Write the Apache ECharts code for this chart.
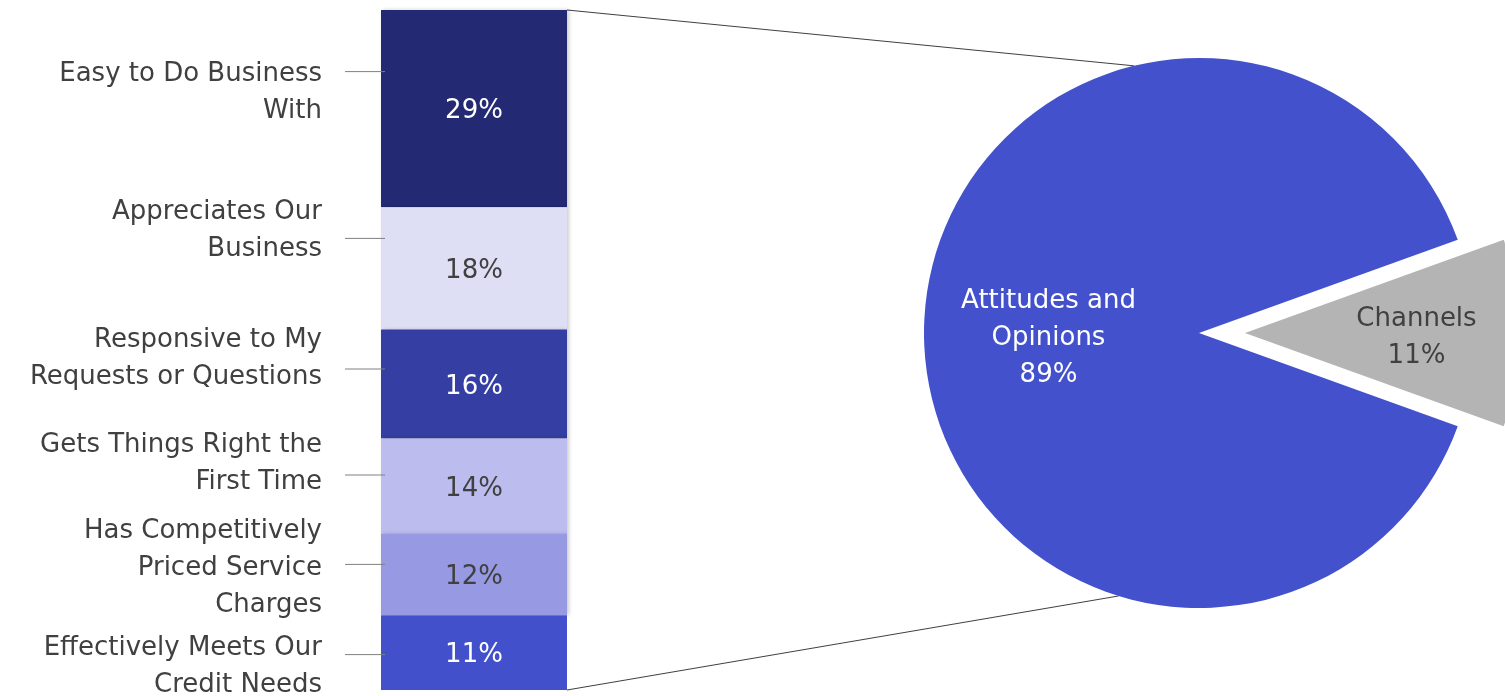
<!DOCTYPE html>
<html>
<head>
<meta charset="utf-8">
<script src="https://cdn.jsdelivr.net/npm/echarts@6/dist/echarts.min.js"></script>
<style>
  html, body { margin: 0; padding: 0; background: #ffffff; }
  #chart { width: 1505px; height: 696px; }
</style>
</head>
<body>
<div id="chart"></div>
<script>
// Breakdown of "Attitudes and Opinions" (stacked column, top to bottom)
const driverLabels = [
  'Easy to Do Business\nWith',
  'Appreciates Our\nBusiness',
  'Responsive to My\nRequests or Questions',
  'Gets Things Right the\nFirst Time',
  'Has Competitively\nPriced Service\nCharges',
  'Effectively Meets Our\nCredit Needs'
];
const driverValues = [29, 18, 16, 14, 12, 11];

// Overall split (pie)
const pieNames = ['Channels', 'Attitudes and\nOpinions'];
const pieValues = [11, 89];

// Styling
const driverColors = ['#232A73', '#DEDEF5', '#353FA3', '#BCBDEE', '#9799E2', '#4250CC'];
const driverTextColors = ['#ffffff', '#404040', '#ffffff', '#404040', '#404040', '#ffffff'];
const pieColors = ['#B4B4B4', '#4352CC'];
const pieTextColors = ['#404040', '#ffffff'];
const pieLabelOffsets = [[31, 5], [-10, 5]];
// leader line shift from the segment centre, and text shift from the leader line (px)
const leaderShift = [-37, -30, -15, -11, -10, 2];
const labelShift = [19, -10, -12, -13, 2, 10];
// angles (deg) where the connector lines meet the pie rim
const connectorAngles = [103.7, -107];

const FONT = '"DejaVu Sans", "Liberation Sans", sans-serif';
const FS = 26;
const PIE_CENTER = [1199, 333];
const PIE_RADIUS = 275;

const chart = echarts.init(document.getElementById('chart'), null, { renderer: 'canvas' });

const cumStart = [];
driverValues.reduce((acc, v, i) => { cumStart[i] = acc; return acc + v; }, 0);

const lastIdx = driverValues.length - 1;
const barSeries = driverValues.map((v, i) => ({
  type: 'bar',
  name: driverLabels[i],
  stack: 'drivers',
  barWidth: '100%',
  data: [v],
  itemStyle: i === lastIdx
    ? { color: driverColors[i] }
    : { color: driverColors[i], shadowBlur: 4, shadowColor: 'rgba(0,0,0,0.2)', shadowOffsetX: 2 },
  label: {
    show: true,
    position: 'inside',
    formatter: '{c}%',
    color: driverTextColors[i],
    fontFamily: FONT,
    fontSize: FS,
    offset: [0, 3]
  },
  emphasis: { disabled: true }
}));

const sideLabels = {
  type: 'custom',
  clip: false,
  silent: true,
  z: 3,
  data: driverValues.map((v, i) => [0, cumStart[i] + v / 2]),
  renderItem(params, api) {
    const i = params.dataIndex;
    const top = api.coord([0, cumStart[i]]);
    const bottom = api.coord([0, cumStart[i] + driverValues[i]]);
    const band = api.size([1, 0])[0];
    const left = top[0] - band / 2;
    const yMid = (top[1] + bottom[1]) / 2 + leaderShift[i];
    return {
      type: 'group',
      children: [
        {
          type: 'line',
          shape: { x1: left - 36, y1: yMid, x2: left + 4, y2: yMid },
          style: { stroke: '#808080', lineWidth: 1 }
        },
        {
          type: 'text',
          x: left - 59,
          y: yMid + labelShift[i] + 2,
          style: {
            text: driverLabels[i],
            align: 'right',
            verticalAlign: 'middle',
            fontFamily: FONT,
            fontSize: FS,
            lineHeight: 37,
            fill: '#404040'
          }
        }
      ]
    };
  }
};

const pieTotal = pieValues.reduce((a, b) => a + b, 0);

const pieSeries = {
  type: 'pie',
  center: PIE_CENTER,
  radius: PIE_RADIUS,
  startAngle: pieValues[0] / pieTotal * 180,
  clockwise: true,
  selectedMode: 'single',
  selectedOffset: 46,
  avoidLabelOverlap: false,
  label: {
    show: true,
    position: 'inside',
    formatter: '{b}\n{c}%',
    fontFamily: FONT,
    fontSize: FS,
    lineHeight: 37
  },
  labelLine: { show: false },
  emphasis: { disabled: true },
  data: pieValues.map((v, i) => ({
    name: pieNames[i],
    value: v,
    selected: i === 0,
    itemStyle: { color: pieColors[i], borderWidth: 0 },
    select: {
      itemStyle: { color: pieColors[i], borderWidth: 0 },
      label: { color: pieTextColors[i], offset: pieLabelOffsets[i] }
    },
    label: { color: pieTextColors[i], offset: pieLabelOffsets[i] }
  }))
};

chart.setOption({
  animation: false,
  backgroundColor: '#ffffff',
  grid: { left: 381, top: 10, width: 186, height: 680 },
  xAxis: { type: 'category', data: ['Attitudes and Opinions'], show: false },
  yAxis: { type: 'value', min: 0, max: 100, inverse: true, show: false },
  series: [...barSeries, sideLabels, pieSeries]
});

// Connector lines from the column corners to the pie rim
const gridRect = chart.getModel().getComponent('grid').coordinateSystem.getRect();
const corners = [
  [gridRect.x + gridRect.width, chart.convertToPixel({ yAxisIndex: 0 }, 0)],
  [gridRect.x + gridRect.width, chart.convertToPixel({ yAxisIndex: 0 }, 100)]
];
const rimPoints = connectorAngles.map(a => {
  const r = a * Math.PI / 180;
  return [PIE_CENTER[0] + PIE_RADIUS * Math.cos(r), PIE_CENTER[1] - PIE_RADIUS * Math.sin(r)];
});
chart.setOption({
  graphic: corners.map((c, i) => ({
    type: 'line',
    silent: true,
    shape: { x1: c[0], y1: c[1], x2: rimPoints[i][0], y2: rimPoints[i][1] },
    style: { stroke: '#404040', lineWidth: 1 }
  }))
});
</script>
</body>
</html>
